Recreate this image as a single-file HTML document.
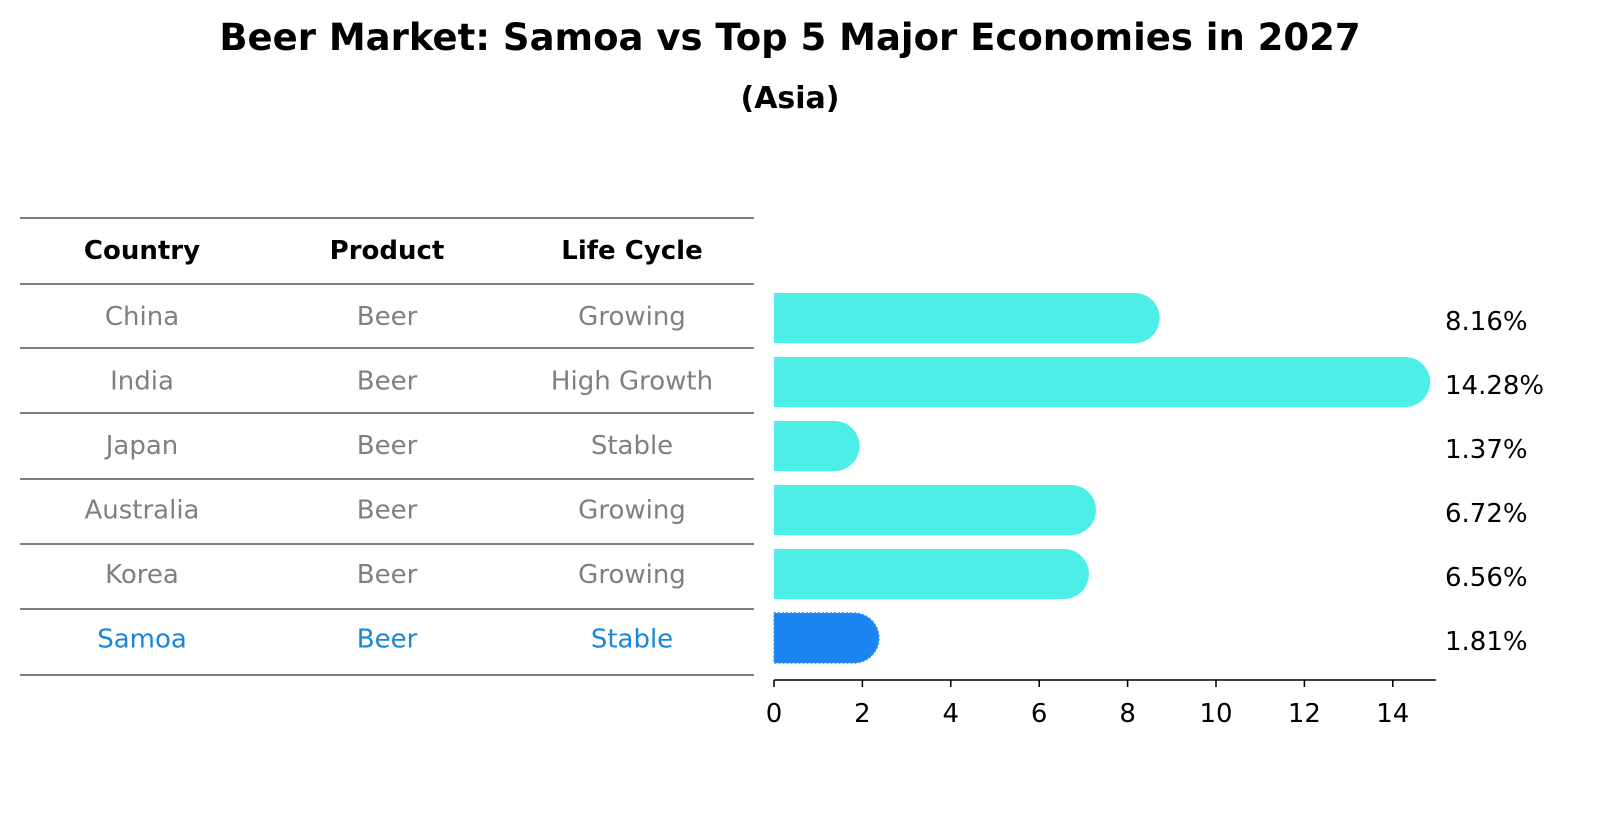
<!DOCTYPE html>
<html><head><meta charset="utf-8"><style>
body{margin:0;background:#fff;font-family:"Liberation Sans","DejaVu Sans",sans-serif}
</style></head><body>
<svg width="1604" height="823" xmlns="http://www.w3.org/2000/svg" font-family="'DejaVu Sans','Liberation Sans',sans-serif">
<text x="790" y="50" text-anchor="middle" font-size="37" font-weight="bold">Beer Market: Samoa vs Top 5 Major Economies in 2027</text>
<text x="790" y="108" text-anchor="middle" font-size="30" font-weight="bold">(Asia)</text>
<g id="table"></g>
<g id="bars"></g>
</svg>
<script>
const countries=["China","India","Japan","Australia","Korea","Samoa"];
const products=["Beer","Beer","Beer","Beer","Beer","Beer"];
const lifeCycles=["Growing","High Growth","Stable","Growing","Growing","Stable"];
const values=[8.16,14.28,1.37,6.72,6.56,1.81];
const ticks=[0,2,4,6,8,10,12,14];
const NS="http://www.w3.org/2000/svg";
function mk(t,a,p,txt){const e=document.createElementNS(NS,t);for(const k in a)e.setAttribute(k,a[k]);if(txt!==undefined)e.textContent=txt;p.appendChild(e);return e;}
const x=v=>774+v*44.2;
const rowY=i=>316+i*64.5;
const FS=26;
const tb=document.getElementById('table');
const lines=[218,284,348,413,479,544,609,675];
lines.forEach((ly,i)=>{const l=mk('line',{x1:20,x2:754,y1:ly,y2:ly,stroke:'#000','stroke-width':1},tb);

});
const cols=[142,387,632];
["Country","Product","Life Cycle"].forEach((h,j)=>{const t=mk('text',{x:cols[j],y:259,'text-anchor':'middle','font-size':FS,'font-weight':'bold'},tb,h);

});
countries.forEach((c,i)=>{const col=i===5?'#1a87d6':'#808080';const y=rowY(i)+9;
[c,products[i],lifeCycles[i]].forEach((s,j)=>{const t=mk('text',{x:cols[j],y:y,'text-anchor':'middle','font-size':FS,fill:col},tb,s);

});});
const bg=document.getElementById('bars');
values.forEach((v,i)=>{const yc=318+i*64;const r=25;const x0=x(0),x1=x(v);
const d=`M${x0},${yc-r}H${x1}A${r},${r} 0 0 1 ${x1},${yc+r}H${x0}Z`;
const p=mk('path',{d:d,fill:i===5?'#1a85f0':'#4dede8'},bg);
if(i===5){p.setAttribute('stroke','#3f95ea');p.setAttribute('stroke-dasharray','2,2');p.setAttribute('stroke-width','1.5');}


const t=mk('text',{x:1445,y:yc+12,'font-size':FS},bg,v.toFixed(2)+'%');

});
const ax=mk('line',{x1:774,x2:1436,y1:680,y2:680,stroke:'#000','stroke-width':1.5},bg);


ticks.forEach(tv=>{const tk=mk('line',{x1:x(tv),x2:x(tv),y1:680,y2:687,stroke:'#000','stroke-width':1.5},bg);


const tl=mk('text',{x:x(tv),y:722,'text-anchor':'middle','font-size':FS},bg,String(tv));

});
</script>
</body></html>
